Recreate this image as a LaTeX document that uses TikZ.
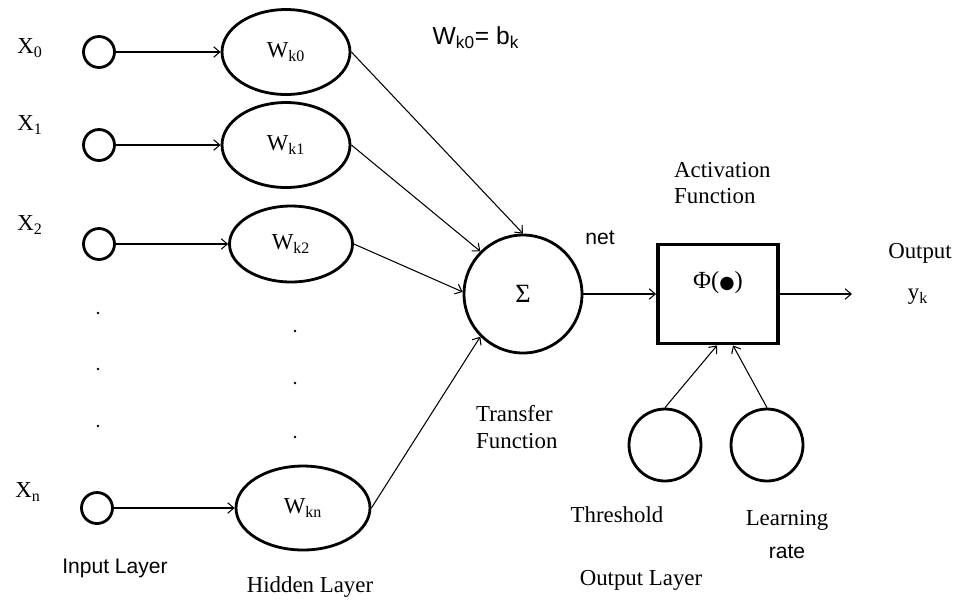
\documentclass[tikz,border=0pt]{standalone}
\usepackage{fontspec}
\setmainfont{Liberation Serif}
\newfontfamily\labelsans{Liberation Sans}
\newfontfamily\symbolfont{DejaVu Sans}
\usetikzlibrary{shapes.geometric, arrows.meta}

\begin{document}
\begin{tikzpicture}[x=0.02cm, y=-0.02cm, font=\fontsize{13}{15}\selectfont,
    inbox/.style={draw=black, line width=1.6pt, circle, minimum size=0.62cm, inner sep=0pt},
    weight/.style={draw=black, line width=1.6pt, ellipse, inner sep=0pt},
    dotmark/.style={circle, fill=black, inner sep=0pt, minimum size=1.6pt},
    sanslabel/.style={font=\labelsans\fontsize{12}{14}\selectfont},
    conn/.style={-{Straight Barb[length=3.5pt, width=6pt]}, line width=0.6pt}]
      \useasboundingbox (0,0) rectangle (956,600);
      % input layer
      \node[inbox] (x0) at (99,52) {};
      \node[inbox] (x1) at (99,145) {};
      \node[inbox] (x2) at (99,244) {};
      \node[inbox] (xn) at (97,508) {};
      \node (lx0) at (30,48) {X\textsubscript{0}};
      \node (lx1) at (30,125) {X\textsubscript{1}};
      \node (lx2) at (30,225) {X\textsubscript{2}};
      \node (lxn) at (28,492) {X\textsubscript{n}};
      \node[dotmark] (din1) at (98,313) {};
      \node[dotmark] (din2) at (98,369) {};
      \node[dotmark] (din3) at (98,426) {};
      %
      % hidden layer
      \node[weight, minimum width=2.56cm, minimum height=1.7cm] (wk0) at (286,52) {W\textsubscript{k0}};
      \node[weight, minimum width=2.56cm, minimum height=1.7cm] (wk1) at (286,145) {W\textsubscript{k1}};
      \node[weight, minimum width=2.46cm, minimum height=1.52cm] (wk2) at (291,244) {W\textsubscript{k2}};
      \node[weight, minimum width=2.68cm, minimum height=1.68cm] (wkn) at (303,508) {W\textsubscript{kn}};
      \node[dotmark] (dhid1) at (295,331) {};
      \node[dotmark] (dhid2) at (295,383) {};
      \node[dotmark] (dhid3) at (295,437) {};
      \node[sanslabel, font=\labelsans\fontsize{14}{16}\selectfont] (bias) at (476,38) {W\textsubscript{k0}= b\textsubscript{k}};
      %
      % transfer and activation
      \node[draw=black, line width=1.6pt, circle, minimum size=2.36cm] (sum) at (523,294) {\fontsize{15}{15}\selectfont Σ};
      \node[draw=black, line width=2.2pt, rectangle, minimum width=2.4cm, minimum height=1.98cm] (act) at (718,294) {};
      \node (phi) at (718,283) {\fontsize{14}{16}\selectfont Φ({\symbolfont\fontsize{10}{10}\selectfont ●})};
      \node[draw=black, line width=1.6pt, circle, minimum size=1.44cm] (thr) at (665,445) {};
      \node[draw=black, line width=1.6pt, circle, minimum size=1.44cm] (lrn) at (767,445) {};
      \coordinate (yout) at (852,294);
      %
      \draw[conn] (x0) -- (wk0);
      \draw[conn] (x1) -- (wk1);
      \draw[conn] (x2) -- (wk2);
      \draw[conn] (xn) -- (wkn);
      \draw[conn] (wk0.east) -- (sum.north);
      \draw[conn] (wk1.east) -- (sum.135);
      \draw[conn] (wk2.east) -- (sum.178);
      \draw[conn] (wkn.east) -- (sum.225);
      \draw[conn] (sum) -- (act);
      \draw[conn] (act) -- (yout);
      \draw[conn] (thr.north) -- ([xshift=-0.02cm]act.south);
      \draw[conn] (lrn.north) -- ([xshift=0.3cm]act.south);
      %
      % labels
      \node[sanslabel] (net) at (600,238) {net};
      \node[anchor=west, align=left] (actlbl) at (668,183) {Activation\\Function};
      \node[anchor=west, align=left] (trlbl) at (470,427) {Transfer\\Function};
      \node (outlbl) at (920,253) {Output};
      \node (yk) at (918,297) {y\textsubscript{k}};
      \node (thrlbl) at (617,515) {Threshold};
      \node (lrnlbl) at (787,520) {Learning};
      \node[sanslabel] (ratelbl) at (787,552) {rate};
      \node[sanslabel] (inlbl) at (115,568) {Input Layer};
      \node (hidlbl) at (310,587) {Hidden Layer};
      \node (outlayer) at (641,580) {Output Layer};
    \end{tikzpicture}
\end{document}
